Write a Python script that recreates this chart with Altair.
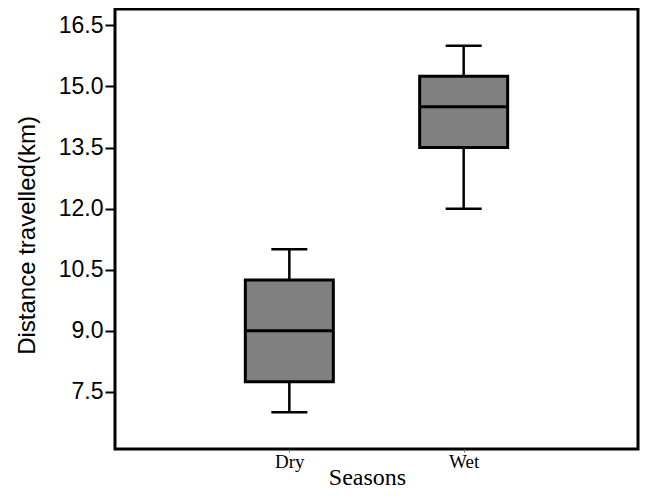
import altair as alt
import pandas as pd

seasons = ["Dry", "Wet"]
lower = [7.0, 12.0]
q1 = [7.75, 13.5]
median = [9.0, 14.5]
q3 = [10.25, 15.25]
upper = [11.0, 16.0]
y_ticks = [7.5, 9.0, 10.5, 12.0, 13.5, 15.0, 16.5]

df = pd.DataFrame({"season": seasons, "lower": lower, "q1": q1,
                   "median": median, "q3": q3, "upper": upper})

SERIF = "Liberation Serif, Times New Roman, serif"

x_axis = alt.Axis(labelAngle=0, domain=False, grid=False, ticks=True, tickSize=3,
                  tickColor="#777777", tickWidth=1,
                  labelFont=SERIF, labelFontSize=19, labelColor="black",
                  labelBaseline="alphabetic", labelPadding=15,
                  titleFont=SERIF, titleFontSize=24, titleFontWeight="normal",
                  titleColor="black",
                  titleX=252, titleY=35, titleBaseline="alphabetic",
                  titleAlign="center")
x = alt.X("season:N", scale=alt.Scale(type="point", padding=1, domain=seasons),
          axis=x_axis, title="Seasons")

y_scale = alt.Scale(domain=[6.1, 16.9], nice=False, zero=False)
y_axis = alt.Axis(values=y_ticks, format=".1f", domain=False, grid=False, ticks=True,
                  tickSize=10, tickWidth=2, tickColor="black",
                  labelFont="Liberation Sans", labelFontSize=23, labelColor="black",
                  labelPadding=2,
                  titleFont="Liberation Sans", titleFontSize=24, titleFontWeight="normal",
                  titleColor="black",
                  titleX=-88, titleY=226, titleAngle=270,
                  titleAlign="center", titleBaseline="middle")

def Y(field):
    return alt.Y(field, scale=y_scale, axis=y_axis, title="Distance travelled(km)")

base = alt.Chart(df)
whisk = base.mark_rule(color="black", strokeWidth=2.5).encode(x=x, y=Y("lower:Q"), y2="upper:Q")
box = base.mark_bar(size=88, fill="#808080", stroke="black", strokeWidth=3, opacity=1).encode(
    x=x, y=Y("q1:Q"), y2="q3:Q")
med = base.mark_tick(size=88, thickness=3, color="black", opacity=1).encode(x=x, y=Y("median:Q"))
capl = base.mark_tick(size=36, thickness=2.5, color="black", opacity=1).encode(x=x, y=Y("lower:Q"))
capu = base.mark_tick(size=36, thickness=2.5, color="black", opacity=1).encode(x=x, y=Y("upper:Q"))

chart = alt.layer(whisk, box, med, capl, capu).properties(
    width=523, height=440,
    autosize=alt.AutoSizeParams(type="none"),
    padding={"left": 107, "top": 1, "right": 2, "bottom": 39},
).configure_view(
    stroke="black", strokeWidth=3
).configure_axisX(
    titleFont=SERIF, labelFont=SERIF
)

chart.save("out.html", embed_options={"renderer": "svg", "actions": False})
